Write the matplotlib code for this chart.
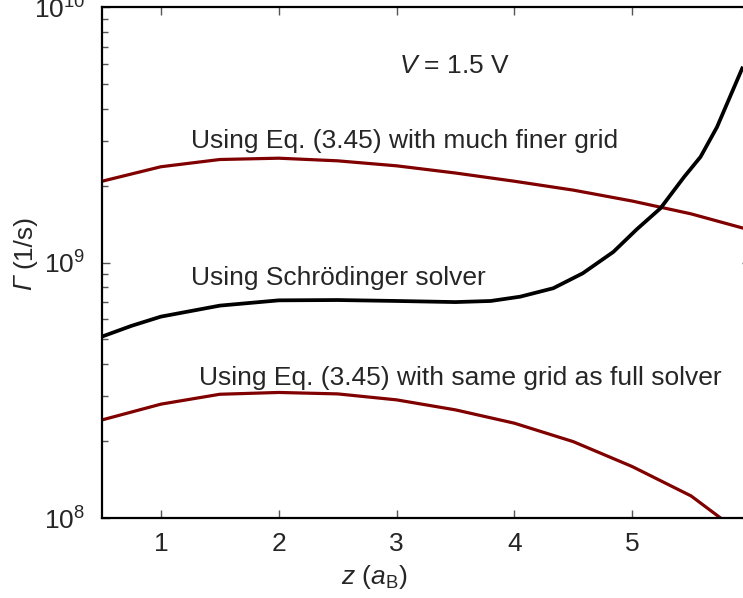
import matplotlib
matplotlib.use("Agg")
import matplotlib.pyplot as plt
from matplotlib.ticker import FixedLocator, LogLocator, NullFormatter

plt.rcParams["font.family"] = ["Liberation Sans", "DejaVu Sans"]
plt.rcParams["mathtext.fontset"] = "custom"
plt.rcParams["mathtext.rm"] = "Liberation Sans"
plt.rcParams["mathtext.it"] = "Liberation Sans:italic"

# Decay rate vs. distance z, three methods
z_fine = [0.5, 1.0, 1.5, 2.0, 2.5, 3.0, 3.5, 4.0, 4.5, 5.0, 5.5, 6.0]
rate_fine = [2.08e9, 2.37e9, 2.53e9, 2.56e9, 2.50e9, 2.39e9, 2.24e9,
             2.08e9, 1.92e9, 1.74e9, 1.55e9, 1.34e9]

z_same = [0.5, 1.0, 1.5, 2.0, 2.5, 3.0, 3.5, 4.0, 4.5, 5.0, 5.5, 6.0]
rate_same = [2.42e8, 2.79e8, 3.05e8, 3.10e8, 3.06e8, 2.90e8, 2.65e8,
             2.35e8, 1.99e8, 1.59e8, 1.22e8, 8.2e7]

z_schr = [0.5, 0.75, 1.0, 1.5, 2.0, 2.5, 3.0, 3.5, 3.8, 4.05, 4.33, 4.58,
          4.84, 5.04, 5.24, 5.44, 5.58, 5.72, 5.94]
rate_schr = [5.13e8, 5.65e8, 6.14e8, 6.78e8, 7.11e8, 7.13e8, 7.07e8, 7.00e8,
             7.07e8, 7.35e8, 7.93e8, 9.07e8, 1.10e9, 1.35e9, 1.63e9, 2.16e9,
             2.59e9, 3.39e9, 5.84e9]

x_ticks = [1, 2, 3, 4, 5]
y_ticks = [1e8, 1e9, 1e10]
y_ticklabels = [r"$10^{8}$", r"$10^{9}$", r"$10^{10}$"]

dark_red = "#800000"
text_color = "#262626"
fs = 19
W, H = 743, 598

fig = plt.figure(figsize=(W / 100, H / 100), dpi=100)
ax = fig.add_axes([102 / W, 1 - 518 / H, 648 / W, 511 / H])

ax.plot(z_fine, rate_fine, color=dark_red, lw=2.3, solid_capstyle="butt")
ax.plot(z_same, rate_same, color=dark_red, lw=2.3, solid_capstyle="butt")
ax.plot(z_schr, rate_schr, color="black", lw=2.7, solid_capstyle="butt")

ax.set_yscale("log")
ax.set_xlim(0.5, 6.0)
ax.set_ylim(1e8, 1e10)

ax.xaxis.set_major_locator(FixedLocator(x_ticks))
ax.set_xticklabels([str(t) for t in x_ticks])
ax.yaxis.set_major_locator(FixedLocator(y_ticks))
ax.set_yticklabels(y_ticklabels)
ax.yaxis.set_minor_locator(LogLocator(base=10, subs=range(2, 10)))
ax.yaxis.set_minor_formatter(NullFormatter())

ax.tick_params(which="major", direction="in", length=6, width=1.0,
               color="#555555", labelsize=fs, labelcolor=text_color,
               top=True, right=True)
ax.tick_params(axis="x", which="major", pad=10)
ax.tick_params(axis="y", which="major", pad=12)
ax.tick_params(which="minor", direction="in", length=4, width=1.0,
               color="#555555", top=True, right=True)
ax.tick_params(axis="x", which="minor", bottom=False, top=False)

for s in ax.spines.values():
    s.set_linewidth(1.6)
    s.set_color("black")

ax.set_xlabel(r"$z$ ($a_{\mathrm{B}}$)", fontsize=fs, color=text_color)
ax.xaxis.set_label_coords(0.42, -0.088)

# y label: italic Gamma followed by upright unit, written bottom-to-top
label_x = 31 / W
gamma = fig.text(label_x, 1 - 290 / H, "\u0393", rotation=90,
                 rotation_mode="anchor", ha="left", va="baseline",
                 fontsize=fs, fontstyle="italic", color=text_color)
fig.canvas.draw()
gbox = gamma.get_window_extent()
space_px = 0.278 * fs * 100 / 72
fig.text(label_x, (gbox.y1 + space_px) / H, "(1/s)", rotation=90,
         rotation_mode="anchor", ha="left", va="baseline",
         fontsize=fs, color=text_color)

ax.text(3.017, 5.5e9, r"$V$ = 1.5 V", fontsize=fs, color=text_color,
        ha="left", va="baseline")
ax.text(1.254, 2.81e9, "Using Eq. (3.45) with much finer grid", fontsize=fs,
        color=text_color, ha="left", va="baseline")
ax.text(1.254, 8.17e8, "Using Schrödinger solver", fontsize=fs,
        color=text_color, ha="left", va="baseline")
ax.text(1.322, 3.32e8, "Using Eq. (3.45) with same grid as full solver",
        fontsize=fs, color=text_color, ha="left", va="baseline")

fig.savefig("out.png", dpi=100)
